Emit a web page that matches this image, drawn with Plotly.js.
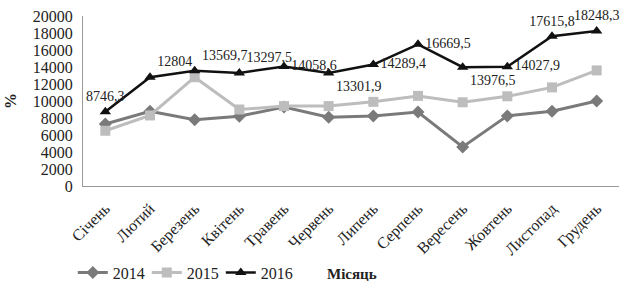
<!DOCTYPE html>
<html>
<head>
<meta charset="utf-8">
<script src="https://cdn.plot.ly/plotly-3.0.1.min.js"></script>
<style>html,body{margin:0;padding:0;background:#fff;}#chart{width:633px;height:281px;}</style>
</head>
<body>
<div id="chart"></div>
<script>
const months = ["Січень","Лютий","Березень","Квітень","Травень","Червень","Липень","Серпень","Вересень","Жовтень","Листопад","Грудень"];
const values2014 = [7300, 8800, 7800, 8200, 9300, 8100, 8250, 8700, 4600, 8250, 8800, 10000];
const values2015 = [6500, 8300, 12800, 9000, 9400, 9400, 9900, 10600, 9850, 10550, 11600, 13600];
const values2016 = [8746.3, 12804, 13569.7, 13297.5, 14058.6, 13301.9, 14289.4, 16669.5, 13976.5, 14027.9, 17615.8, 18248.3];
const labels2016 = ["8746,3","12804","13569,7","13297,5","14058,6","13301,9","14289,4","16669,5","13976,5","14027,9","17615,8","18248,3"];

const font = "Liberation Serif, Times New Roman, serif";

const traces = [
  {x: months, y: values2014, name: "2014", type: "scatter", mode: "lines+markers",
   line: {color: "#7a7a7a", width: 3}, marker: {symbol: "diamond", size: 10, color: "#7a7a7a"}},
  {x: months, y: values2015, name: "2015", type: "scatter", mode: "lines+markers",
   line: {color: "#bdbdbd", width: 3}, marker: {symbol: "square", size: 10, color: "#bdbdbd"}},
  {x: months, y: values2016, name: "2016", type: "scatter", mode: "lines+markers+text",
   text: labels2016,
   textposition: ["top center","top right","top right","top right","middle right","bottom right","middle right","middle right","bottom right","middle right","top center","top center"],
   textfont: {family: font, size: 14, color: "#222"},
   cliponaxis: false,
   line: {color: "#111", width: 2.5}, marker: {symbol: "triangle-up", size: 10, color: "#111"}}
];

const layout = {
  width: 633, height: 281,
  margin: {l: 83, r: 14, t: 16, b: 95},
  paper_bgcolor: "#fff", plot_bgcolor: "#fff",
  font: {family: font, size: 15, color: "#222"},
  showlegend: true,
  legend: {orientation: "h", xref: "container", yref: "container",
           x: 0.115, xanchor: "left", y: 0.03, yanchor: "middle",
           font: {family: font, size: 16, color: "#222"}, itemwidth: 30,
           entrywidth: 29, tracegroupgap: 0, borderwidth: 0},
  xaxis: {type: "category", range: [-0.5, 11.5], tickangle: -45, showgrid: false,
          automargin: false, ticklabelstandoff: 6,
          showline: true, linecolor: "#999", linewidth: 1, ticks: "",
          tickfont: {family: font, size: 16, color: "#222"}},
  yaxis: {range: [0, 20000], dtick: 2000, showgrid: false, zeroline: false,
          tickformat: "d", automargin: false, ticklabelstandoff: 6,
          showline: true, linecolor: "#999", linewidth: 1, ticks: "",
          tickfont: {family: font, size: 16, color: "#222"},
          title: {text: "<b>%</b>", font: {family: font, size: 16, color: "#222"}, standoff: 12}},
  annotations: [
    {text: "<b>Місяць</b>", xref: "paper", yref: "paper", x: 0.502, y: -0.518,
     xanchor: "center", yanchor: "middle", showarrow: false,
     font: {family: font, size: 15, color: "#222"}}
  ]
};

Plotly.newPlot("chart", traces, layout, {displayModeBar: false, staticPlot: true});
</script>
</body>
</html>
